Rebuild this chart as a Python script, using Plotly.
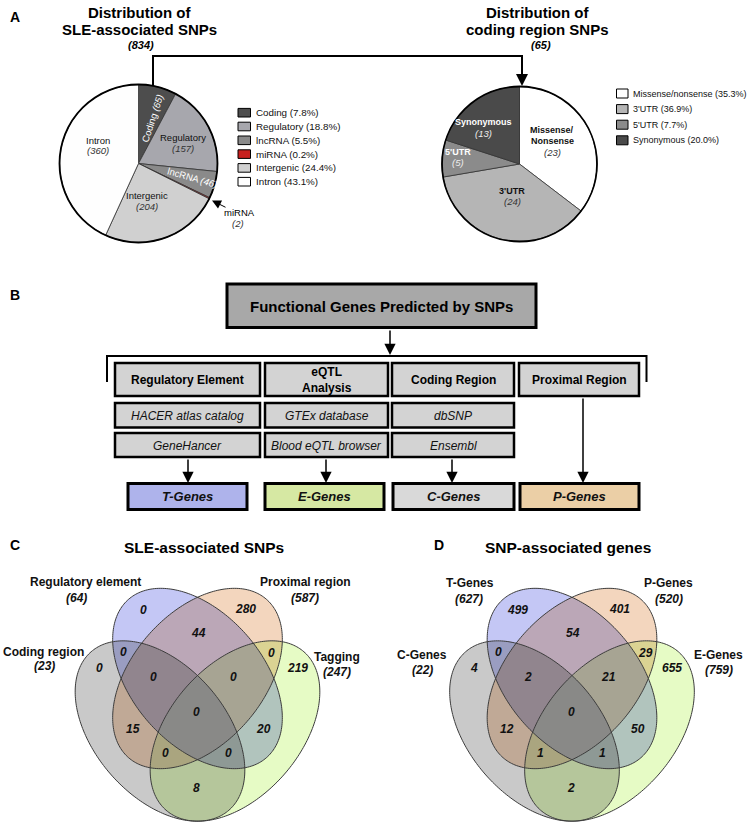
import base64, struct, zlib
import numpy as np
import plotly.graph_objects as go

W, H = 747, 825
FONT = "Arial, Liberation Sans, Helvetica, sans-serif"

# ---------------- data ----------------
snp_labels = ["Coding", "Regulatory", "lncRNA", "miRNA", "Intergenic", "Intron"]
snp_counts = [65, 157, 46, 2, 204, 360]
snp_pct = [7.8, 18.8, 5.5, 0.2, 24.4, 43.1]
snp_total = 834

cod_labels = ["Missense/nonsense", "3'UTR", "5'UTR", "Synonymous"]
cod_counts = [23, 24, 5, 13]
cod_pct = [35.3, 36.9, 7.7, 20.0]
cod_total = 65

# venn regions: set index 0=left(gray) 1=blue 2=orange 3=right(green)
venn_regions = [(1,), (2,), (1, 2), (0, 1), (0,), (2, 3), (3,), (0, 1, 2), (1, 2, 3),
                (0, 1, 2, 3), (0, 2), (1, 3), (0, 2, 3), (0, 1, 3), (0, 3)]
sle_counts = [0, 280, 44, 0, 0, 0, 219, 0, 0, 0, 15, 20, 0, 0, 8]
gene_counts = [499, 401, 54, 0, 4, 29, 655, 2, 21, 0, 12, 50, 1, 1, 2]
sle_sets = ["Coding region", "Regulatory element", "Proximal region", "Tagging"]
sle_totals = [23, 64, 587, 247]
gene_sets = ["C-Genes", "T-Genes", "P-Genes", "E-Genes"]
gene_totals = [22, 627, 520, 759]

# ---------------- styles ----------------
snp_colors = ["#4d4d4d", "#a7a7ad", "#8a8a8a", "#c8201e", "#d0d0d0", "#fefefe"]
cod_colors = ["#ffffff", "#b5b5b5", "#8b8b8b", "#4a4a4a"]
venn_colors = [(201, 201, 201), (196, 199, 245), (243, 214, 190), (230, 251, 197)]

fig = go.Figure()
ann = []
shapes = []


def T(x, y, text, size=10, color="#000", bold=False, italic=False, angle=0,
      xanchor="center", yanchor="middle"):
    if italic:
        text = f"<i>{text}</i>"
    if bold:
        text = f"<b>{text}</b>"
    ann.append(dict(x=x, y=y, xref="x", yref="y", text=text, showarrow=False,
                    font=dict(family=FONT, size=size, color=color), textangle=angle,
                    xanchor=xanchor, yanchor=yanchor))


def arrow(x0, y0, x1, y1, w=1.5, size=1.4, head=2):
    ann.append(dict(x=x1, y=y1, ax=x0, ay=y0, xref="x", yref="y", axref="x", ayref="y",
                    text="", showarrow=True, arrowhead=head, arrowsize=size, arrowwidth=w,
                    arrowcolor="black", standoff=0, startstandoff=0))


def rect(x0, y0, x1, y1, fill, lw=2, lc="black"):
    shapes.append(dict(type="rect", xref="x", yref="y", x0=x0, y0=y0, x1=x1, y1=y1,
                       fillcolor=fill, line=dict(color=lc, width=lw), layer="above"))


def path(d, lw=2, color="black"):
    shapes.append(dict(type="path", xref="x", yref="y", path=d,
                       line=dict(color=color, width=lw), layer="above"))


# ---------------- panel A: pies ----------------
def add_pie(values, colors, cx, cy, r):
    fig.add_trace(go.Pie(values=values, sort=False, direction="clockwise", rotation=0,
                         marker=dict(colors=colors, line=dict(color="#333333", width=0.8)),
                         textinfo="none", hoverinfo="skip", showlegend=False,
                         domain=dict(x=[(cx - r) / W, (cx + r) / W],
                                     y=[1 - (cy + r) / H, 1 - (cy - r) / H])))
    shapes.append(dict(type="circle", xref="x", yref="y", x0=cx - r, x1=cx + r,
                       y0=cy - r, y1=cy + r, line=dict(color="black", width=1.8), layer="above"))


add_pie(snp_counts, snp_colors, 138.5, 163.5, 79)
add_pie(cod_counts, cod_colors, 519.5, 164, 77.5)

T(15, 17, "A", 14, bold=True)
T(139, 12, "Distribution of", 15, bold=True)
T(139, 29, "SLE-associated SNPs", 15, bold=True)
T(141, 45, f"({snp_total})", 11, bold=True, italic=True)
T(537, 12, "Distribution of", 15, bold=True)
T(537, 29, "coding region SNPs", 15, bold=True)
T(541, 45, f"({cod_total})", 11, bold=True, italic=True)

# connector between pies
path("M 153 85 L 153 56 L 522 56 L 522 76", lw=2)
arrow(522, 70, 522, 86, w=1.6, size=1.5)

# left pie labels
T(152, 118, f"Coding <i>({snp_counts[0]})</i>", 9.5, color="white", angle=-72)
T(183, 137, snp_labels[1], 9.5, color="#111")
T(183, 148, f"({snp_counts[1]})", 9.5, color="#333", italic=True)
T(192, 177, f"lncRNA <i>({snp_counts[2]})</i>", 9.5, color="white", angle=16)
T(147, 195, snp_labels[4], 9.5, color="#111")
T(147, 206, f"({snp_counts[4]})", 9.5, color="#333", italic=True)
T(98, 140, snp_labels[5], 9.5, color="#111")
T(98, 150, f"({snp_counts[5]})", 9.5, color="#333", italic=True)
arrow(227, 208, 212, 200.5, w=1, size=1.8)
T(239, 212, snp_labels[3], 9.5)
T(238, 223, f"({snp_counts[3]})", 9.5, color="#333", italic=True)

# right pie labels
T(483, 122, "Synonymous", 9, color="white", bold=True)
T(483, 133, f"({cod_counts[3]})", 9.5, color="#eee", italic=True)
T(458, 152, "5'UTR", 9, color="white", bold=True)
T(458, 162, f"({cod_counts[2]})", 9.5, color="#eee", italic=True)
T(552, 130, "Missense/", 9, color="#111", bold=True)
T(552, 141, "Nonsense", 9, color="#111", bold=True)
T(552, 152, f"({cod_counts[0]})", 9.5, color="#333", italic=True)
T(512, 191, "3'UTR", 9, color="#111", bold=True)
T(512, 201, f"({cod_counts[1]})", 9.5, color="#333", italic=True)

# legends
for i, (lab, p) in enumerate(zip(snp_labels, snp_pct)):
    yy = 112.7 + i * 13.8
    rect(238, yy - 4.3, 250.5, yy + 4.3, snp_colors[i], lw=1)
    T(254, yy, f"{lab} ({p}%)", 9.8, color="#111", xanchor="left")
for i, (lab, p) in enumerate(zip(cod_labels, cod_pct)):
    yy = 93.5 + i * 15.6
    rect(616.5, yy - 4.5, 628, yy + 4.5, cod_colors[i], lw=1)
    T(630.5, yy, f"{lab} ({p:.1f}%)", 9.0, color="#111", xanchor="left")

# ---------------- panel B: flowchart ----------------
T(15, 295, "B", 14, bold=True)
rect(227, 284, 536, 327.5, "#a8a8a8", lw=3)
T(381.5, 306, "Functional Genes Predicted by SNPs", 15, bold=True)
arrow(390, 329, 390, 355, w=1.5, size=1.5)
path("M 107 382 L 107 356 L 646.5 356 L 646.5 382", lw=2)

cols = [(115, 260), (265, 388), (392, 514), (519, 639)]
row1 = ["Regulatory Element", "eQTL<br>Analysis", "Coding Region", "Proximal Region"]
row2 = ["HACER atlas catalog", "GTEx database", "dbSNP"]
row3 = ["GeneHancer", "Blood eQTL browser", "Ensembl"]
for (x0, x1), t in zip(cols, row1):
    rect(x0, 363, x1, 396, "#d3d3d3", lw=2.5)
    T((x0 + x1) / 2, 380, t, 12, bold=True)
for (x0, x1), t in zip(cols[:3], row2):
    rect(x0, 403, x1, 427.5, "#d3d3d3", lw=2.5)
    T((x0 + x1) / 2, 415.5, t, 12, italic=True, color="#111")
for (x0, x1), t in zip(cols[:3], row3):
    rect(x0, 433, x1, 457, "#d3d3d3", lw=2.5)
    T((x0 + x1) / 2, 445.5, t, 12, italic=True, color="#111")
for xx in (188, 326, 452):
    arrow(xx, 458, xx, 483, w=1.5, size=1.5)
arrow(583, 397, 583, 483, w=1.5, size=1.5)

gbox = [(128, 247, "T-Genes", "#aeb3eb"), (265, 384, "E-Genes", "#d6e8a3"),
        (393, 514, "C-Genes", "#d9d9d9"), (520, 639, "P-Genes", "#ebcfa6")]
for x0, x1, t, c in gbox:
    rect(x0, 483.5, x1, 509.5, c, lw=3)
    T((x0 + x1) / 2, 496.5, t, 13, bold=True, italic=True, color="#111")

# ---------------- panels C, D: Venn ----------------
EA, EB, PHI = 105.0, 65.6, np.deg2rad(49.0)
cph, sph = np.cos(PHI), np.sin(PHI)


def ellipses(xc):
    return [(xc - 37.5, 731.0, 1), (xc, 678.5, 1), (xc, 678.5, -1), (xc + 37.5, 731.0, -1)]


XC = [197.5, 572.0]
x_lo, x_hi, y_lo, y_hi = 60, 716, 582, 825
xs = np.arange(x_lo, x_hi) + 0.5
ys = np.arange(y_lo, y_hi) + 0.5
X, Y = np.meshgrid(xs, ys)
rgb = np.full(X.shape + (3,), 255.0)
cnt = np.zeros(X.shape, int)
for xc in XC:
    for (ecx, ecy, sg), col in zip(ellipses(xc), venn_colors):
        dx, dy = X - ecx, Y - ecy
        u = sg * dx * cph + dy * sph
        v = -sg * dx * sph + dy * cph
        inside = (u / EA) ** 2 + (v / EB) ** 2 <= 1
        rgb[inside] *= np.array(col, float) / 255.0
        cnt += inside
lum = (0.299 * rgb[..., 0] + 0.587 * rgb[..., 1] + 0.114 * rgb[..., 2])[..., None]
sat = np.choose(np.clip(cnt, 0, 4), [1.0, 1.0, 1.0, 0.75, 0.1])[..., None]
rgb = lum + (rgb - lum) * sat
rgb[cnt == 4] += 8
rgba = np.zeros(X.shape + (4,), np.uint8)
rgba[..., :3] = np.clip(np.round(rgb), 0, 255).astype(np.uint8)
rgba[..., 3] = np.where(cnt > 0, 255, 0).astype(np.uint8)


def png_uri(arr):
    h, w, _ = arr.shape
    raw = b"".join(b"\x00" + arr[i].tobytes() for i in range(h))

    def chunk(tag, data):
        return (struct.pack(">I", len(data)) + tag + data
                + struct.pack(">I", zlib.crc32(tag + data) & 0xFFFFFFFF))
    png = (b"\x89PNG\r\n\x1a\n"
           + chunk(b"IHDR", struct.pack(">IIBBBBB", w, h, 8, 6, 0, 0, 0))
           + chunk(b"IDAT", zlib.compress(raw, 9)) + chunk(b"IEND", b""))
    return "data:image/png;base64," + base64.b64encode(png).decode()


fig.add_trace(go.Image(source=png_uri(rgba), x0=x_lo + 0.5, y0=y_lo + 0.5, dx=1, dy=1,
                       hoverinfo="skip"))

tt = np.linspace(0, 2 * np.pi, 241)
for xc in XC:
    for ecx, ecy, sg in ellipses(xc):
        px = ecx + EA * np.cos(tt) * sg * cph - EB * np.sin(tt) * sg * sph
        py = ecy + EA * np.cos(tt) * sph + EB * np.sin(tt) * cph
        d = "M " + " L ".join(f"{a:.2f} {b:.2f}" for a, b in zip(px, py)) + " Z"
        path(d, lw=1, color="#3c3c3c")

region_pos = [(-54.5, 609.5), (47.5, 609), (0.5, 633.3), (-74, 652.3), (-98, 668),
              (73.5, 652.5), (100, 668), (-44, 676.5), (36, 676.5), (-0.8, 712.3),
              (-65, 729.3), (66, 729.3), (-32, 753.3), (30.5, 753.3), (-0.8, 788.3)]
for xc, counts in zip(XC, [sle_counts, gene_counts]):
    for (ox, oy), n in zip(region_pos, counts):
        T(xc + ox, oy, str(n), 12, bold=True, italic=True, color="#111")

T(15, 545, "C", 14, bold=True)
T(204, 547, "SLE-associated SNPs", 15.5, bold=True)
T(439, 545, "D", 14, bold=True)
T(567.5, 547, "SNP-associated genes", 15.5, bold=True)

sle_lab_pos = [((43, 652), (44, 666)), ((85, 582), (76, 598)), ((305, 582), (305, 598)),
               ((337, 657), (337, 672))]
gene_lab_pos = [((422, 655), (422, 670)), ((470, 583), (469, 599)), ((668, 583), (669, 599)),
                ((718, 655), (719, 670))]
for names, tots, poss in [(sle_sets, sle_totals, sle_lab_pos), (gene_sets, gene_totals, gene_lab_pos)]:
    for nm, tot, (p1, p2) in zip(names, tots, poss):
        T(p1[0], p1[1], nm, 12, bold=True, color="#111")
        T(p2[0], p2[1], f"({tot})", 12, bold=True, italic=True, color="#111")

fig.update_layout(
    width=W, height=H, margin=dict(l=0, r=0, t=0, b=0),
    paper_bgcolor="white", plot_bgcolor="white", showlegend=False,
    xaxis=dict(range=[0, W], visible=False, fixedrange=True, showgrid=False, zeroline=False),
    yaxis=dict(range=[H, 0], visible=False, fixedrange=True, showgrid=False, zeroline=False),
    annotations=ann, shapes=shapes,
)
fig.write_html("out.html", config={"displayModeBar": False, "staticPlot": True},
               post_script="document.body.style.margin='0px';document.body.style.overflow='hidden';")
